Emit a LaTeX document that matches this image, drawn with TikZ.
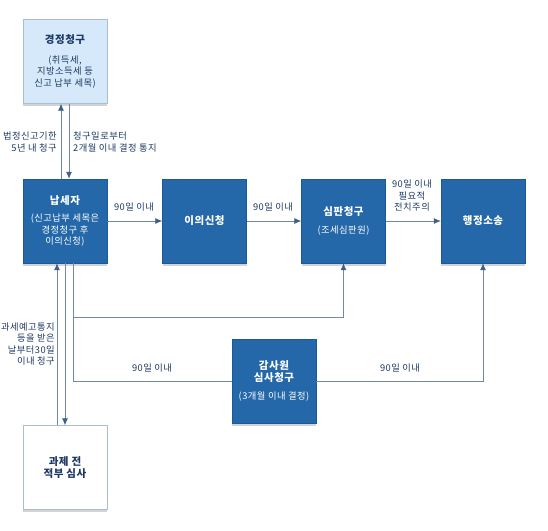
\documentclass[tikz,border=0pt]{standalone}
\usepackage{fontspec}
\newfontfamily\krfont[LetterSpace=5]{Noto Sans CJK KR}
\usetikzlibrary{shadows,arrows.meta}

\definecolor{boxblue}{HTML}{2468A9}
\definecolor{boxedge}{HTML}{1B5A98}
\definecolor{paleblue}{HTML}{D5E9FB}
\definecolor{paleedge}{HTML}{A8BED4}
\definecolor{linegray}{HTML}{7089A6}
\definecolor{tipblue}{HTML}{3F5F86}
\definecolor{textnavy}{HTML}{1E3A62}

\begin{document}
\begin{tikzpicture}[x=1pt, y=-1pt,
    every node/.style={font=\krfont\fontsize{9.3}{11.5}\selectfont, text=textnavy},
    darkbox/.style={draw=boxedge, fill=boxblue, text=white, align=center, inner sep=0pt,
        minimum width=84pt, minimum height=84pt,
        drop shadow={shadow xshift=0pt, shadow yshift=-2.5pt, opacity=0.35}},
    palebox/.style={darkbox, draw=paleedge, fill=paleblue, text=textnavy},
    whitebox/.style={darkbox, draw=paleedge, fill=white, text=textnavy},
    boldtext/.style={font=\krfont\bfseries\fontsize{10.5}{11.5}\selectfont},
    conn/.style={draw=linegray, line width=0.8pt},
    lbl/.style={inner sep=1pt}]

    \useasboundingbox (0,0) rectangle (548,530);

    %boites
    \node[palebox] (gyeong) at (65,61.5) {{\bfseries\fontsize{10.5}{12}\selectfont 경정청구}\\[8pt](취득세,\\지방소득세 등\\신고 납부 세목)};
    \node[darkbox] (napse) at (65,221) {{\bfseries\fontsize{10.5}{12}\selectfont 납세자}\\[6pt](신고납부 세목은\\경정청구 후\\이의신청)};
    \node[darkbox, boldtext] (iui) at (204.5,221) {이의신청};
    \node[darkbox] (simpan) at (343.5,221) {{\bfseries\fontsize{10.5}{12}\selectfont 심판청구}\\[6pt](조세심판원)};
    \node[darkbox, boldtext] (haengjeong) at (483,221) {행정소송};
    \node[darkbox, boldtext] (gamsa) at (274,381) {감사원\\심사청구\\[7pt]\mdseries\fontsize{9.3}{11.5}\selectfont (3개월 이내 결정)};
    \node[whitebox, boldtext] (gwase) at (65,467.5) {과제 전\\적부 심사};

    %경정청구
    \draw[conn, -{Latex[length=7pt,width=6pt,color=tipblue]}] ([xshift=-4pt]napse.north) -- ([xshift=-4pt]gyeong.south);
    \draw[conn, -{Latex[length=7pt,width=6pt,color=tipblue]}] ([xshift=4pt]gyeong.south) -- ([xshift=4pt]napse.north);
    \node[lbl, anchor=east, align=right] (l1) at (58,142) {법정신고기한\\5년 내 청구};
    \node[lbl, anchor=west, align=left] (l2) at (72,142) {청구일로부터\\2개월 이내 결정 통지};

    %ligne principale
    \draw[conn, -{Latex[length=7pt,width=6pt,color=tipblue]}] (napse) -- (iui);
    \draw[conn, -{Latex[length=7pt,width=6pt,color=tipblue]}] (iui) -- (simpan);
    \draw[conn, -{Latex[length=7pt,width=6pt,color=tipblue]}] (simpan) -- (haengjeong);
    \node[lbl] (l3) at (134,207) {90일 이내};
    \node[lbl] (l4) at (273,207) {90일 이내};
    \node[lbl, align=center] (l5) at (412,196) {90일 이내\\필요적\\전치주의};

    %과제 전
    \draw[conn, -{Latex[length=7pt,width=6pt,color=tipblue]}] ([xshift=-8pt]gwase.north) -- ([xshift=-8pt]napse.south);
    \draw[conn, -{Latex[length=7pt,width=6pt,color=tipblue]}] (napse.south) -- (gwase.north);
    \node[lbl, anchor=east, align=right] (l6) at (56,344) {과세예고통지\\등을 받은\\날부터30일\\이내 청구};

    %감사원
    \coordinate (j1) at (73,317);
    \draw[conn, -{Latex[length=7pt,width=6pt,color=tipblue]}] ([xshift=8pt]napse.south) -- (j1) -| (simpan.south);
    \draw[conn] ([xshift=8pt]napse.south) |- (gamsa.west);
    \draw[conn, -{Latex[length=7pt,width=6pt,color=tipblue]}] (gamsa.east) -| (haengjeong.south);
    \node[lbl] (l7) at (152,368) {90일 이내};
    \node[lbl] (l8) at (400,368) {90일 이내};

\end{tikzpicture}
\end{document}
